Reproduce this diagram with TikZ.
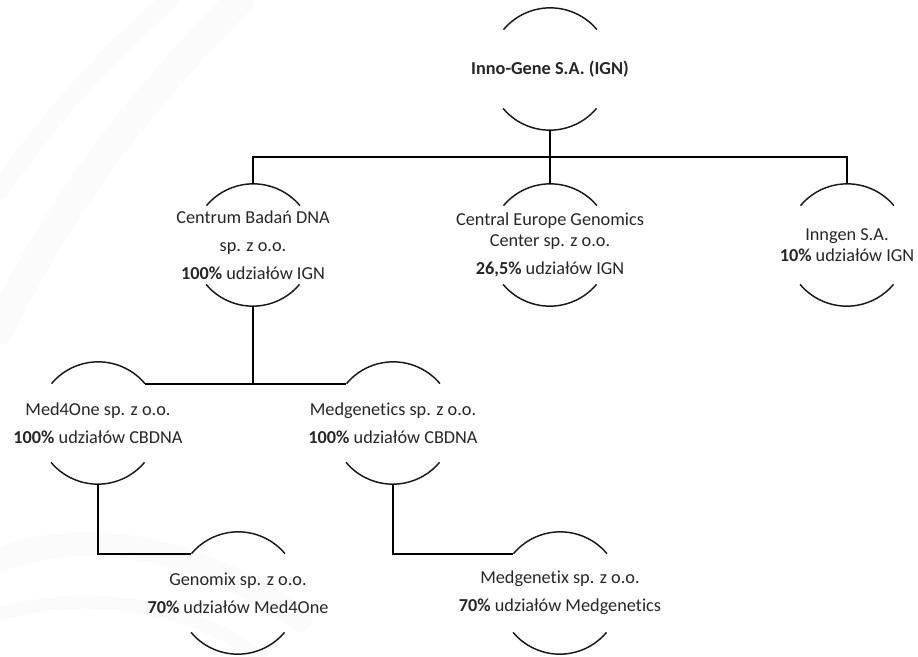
\documentclass[tikz,border=0pt]{standalone}
\usepackage{fontspec}
\setmainfont{Carlito}[Ligatures={NoCommon,NoRare}]
\usepackage{tikz}
\tikzset{unit/.style={circle,draw=none,inner sep=0pt,minimum size=91.5pt},
         desc/.style={align=center,text=black!85,font=\fontsize{13.7}{16}\selectfont},
         rim/.style={line width=1.1pt,black!90},
         conn/.style={line width=1.5pt,black},
         swoosh/.style={line width=#1,gray!25,opacity=0.12,line cap=round}
}

\begin{document}
\begin{tikzpicture}[x=0.75pt,y=0.75pt]
\useasboundingbox (0,0) rectangle (918,-657);

% faint background streaks
\draw[swoosh=22pt] (240,0) .. controls (150,-90) and (60,-200) .. (0,-330);
\draw[swoosh=14pt] (170,0) .. controls (100,-60) and (40,-130) .. (0,-190);
\draw[swoosh=18pt] (0,-560) .. controls (100,-520) and (220,-560) .. (300,-620);
\draw[swoosh=10pt] (0,-615) .. controls (90,-585) and (200,-610) .. (260,-657);

% units
\node[unit] (ign) at (550,-69) {};
\node[desc] (ign-t) at (ign) {\textbf{Inno-Gene S.A. (IGN)}};

\node[unit] (cbdna) at (253,-245) {};
\node[desc] (cbdna-t) at (cbdna) {Centrum Badań DNA\\[5pt]sp. z o.o.\\[5pt]\textbf{100\%} udziałów IGN};

\node[unit] (cega) at (550,-245) {};
\node[desc] (cega-t) at (cega) {Central Europe Genomics\\Center sp. z o.o.\\[5pt]\textbf{26,5\%} udziałów IGN};

\node[unit] (inngen) at (847,-245) {};
\node[desc] (inngen-t) at (inngen) {Inngen S.A.\\\textbf{10\%} udziałów IGN};

\node[unit] (med) at (98,-423) {};
\node[desc] (med-t) at (med) {Med4One sp. z o.o.\\[5pt]\textbf{100\%} udziałów CBDNA};

\node[unit] (mgen) at (393,-423) {};
\node[desc] (mgen-t) at (mgen) {Medgenetics sp. z o.o.\\[5pt]\textbf{100\%} udziałów CBDNA};

\node[unit] (gmx) at (238,-593) {};
\node[desc] (gmx-t) at (gmx) {Genomix sp. z o.o.\\[5pt]\textbf{70\%} udziałów Med4One};

\node[unit] (mgx) at (560,-593) {};
\node[desc] (mgx-t) at (mgx) {Medgenetix sp. z o.o.\\[5pt]\textbf{70\%} udziałów Medgenetics};

% top and bottom arcs of every unit
\foreach \n in {ign,cbdna,cega,inngen,med,mgen,gmx,mgx}{
  \draw[rim] (\n.40) arc (40:140:45.75pt);
  \draw[rim] (\n.220) arc (220:320:45.75pt);
}

% connectors
\coordinate (bus) at (550,-157);
\draw[conn] (ign.south) -- (cega.north);
\draw[conn] (cbdna.north) |- (bus) -| (inngen.north);
\draw[conn] (cbdna.south) |- (med.40);
\draw[conn] (cbdna.south) |- (mgen.140);
\draw[conn] (med.south) |- (gmx.140);
\draw[conn] (mgen.south) |- (mgx.140);

\end{tikzpicture}
\end{document}
